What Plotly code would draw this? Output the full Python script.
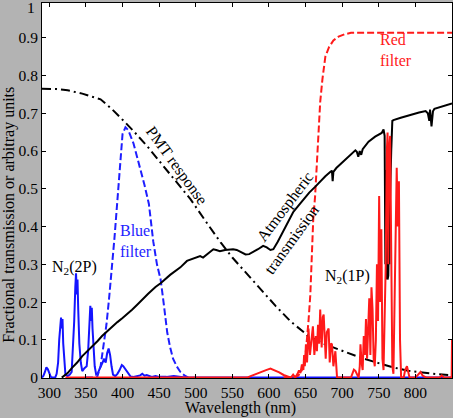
import plotly.graph_objects as go

# ---- data ----
# PMT response (dash-dot black)
pmt_wl = [290, 300, 310, 325, 345, 370, 385, 402, 414, 434, 450, 470, 493, 515, 534, 550,
          568, 588, 609, 630, 654, 677, 700, 722, 745, 768, 790, 810, 830, 850]
pmt_val = [0.765, 0.765, 0.764, 0.761, 0.752, 0.737, 0.712, 0.679, 0.655, 0.612, 0.574, 0.527,
           0.472, 0.41, 0.358, 0.318, 0.279, 0.235, 0.19, 0.148, 0.11, 0.088, 0.071, 0.055,
           0.041, 0.028, 0.018, 0.013, 0.009, 0.006]

# Atmospheric transmission (solid black)
atm_wl = [317, 320, 325, 331, 338, 345, 352, 359, 366, 372, 379, 386, 393, 400, 407, 413, 420,
          425, 435, 445, 452, 465, 479, 488, 496, 502, 506, 510, 515, 520, 524, 528, 533, 540,
          546, 551, 556, 562, 568, 573, 578, 585, 592, 597, 602, 606, 612, 620, 627, 633, 640,
          647, 655, 663, 670, 677, 684, 686, 687, 688, 692, 700, 710, 718, 720, 722, 724, 726,
          728, 730, 736, 745, 754, 756.5, 758, 759, 759.5, 760, 760.5, 761, 761.5, 762, 762.5,
          763, 764, 764.5, 765, 766, 767, 768.5, 770, 780, 795, 805, 814, 817, 819, 820, 822,
          824, 826, 835, 850]
atm_val = [0.0, 0.004, 0.012, 0.026, 0.04, 0.057, 0.07, 0.083, 0.097, 0.11, 0.123, 0.136, 0.147,
           0.158, 0.169, 0.18, 0.193, 0.203, 0.222, 0.24, 0.25, 0.272, 0.292, 0.309, 0.315, 0.32,
           0.322, 0.318, 0.325, 0.333, 0.34, 0.338, 0.335, 0.338, 0.34, 0.34, 0.338, 0.332,
           0.326, 0.327, 0.332, 0.34, 0.349, 0.345, 0.338, 0.34, 0.36, 0.39, 0.415, 0.438,
           0.455, 0.472, 0.49, 0.505, 0.52, 0.533, 0.545, 0.548, 0.52, 0.545, 0.555, 0.57,
           0.588, 0.602, 0.598, 0.585, 0.6, 0.59, 0.605, 0.61, 0.625, 0.638, 0.648, 0.657,
           0.64, 0.3, 0.55, 0.26, 0.5, 0.28, 0.45, 0.26, 0.4, 0.27, 0.4, 0.3, 0.45, 0.5, 0.6,
           0.68, 0.682, 0.688, 0.697, 0.702, 0.706, 0.7, 0.68, 0.71, 0.665, 0.705, 0.712,
           0.718, 0.726]

# Blue filter (dashed blue)
blue_filt_wl = [350, 365, 370, 374.7, 378, 381.5, 385, 389, 393, 397, 400, 404, 408, 415, 422,
                430, 436, 442, 447, 452, 456, 461, 465, 469, 474, 479, 485, 490]
blue_filt_val = [0.0, 0.0, 0.03, 0.09, 0.14, 0.207, 0.28, 0.37, 0.47, 0.58, 0.645, 0.663, 0.655,
                 0.62, 0.57, 0.51, 0.46, 0.36, 0.3, 0.26, 0.2, 0.12, 0.08, 0.05, 0.03, 0.015,
                 0.005, 0.0]

# Red filter (dashed red)
red_filt_wl = [620, 635, 640, 645, 650, 652, 654, 656.5, 658, 660.5, 663, 665, 667, 670, 673,
               677, 682, 688, 695, 703, 712, 850]
red_filt_val = [0.0, 0.002, 0.005, 0.02, 0.06, 0.1, 0.15, 0.22, 0.3, 0.42, 0.48, 0.56, 0.65,
                0.73, 0.79, 0.85, 0.875, 0.893, 0.903, 0.909, 0.913, 0.913]

# N2(2P) emission spectrum (solid blue)
n2p2_wl = [290, 292, 294, 296, 298, 300, 302, 304, 308, 310, 312, 313.5, 315, 316, 317, 318,
           319, 320.5, 322, 325, 328, 330.5, 332, 334, 335.5, 336.5, 337.5, 338.5, 339.5, 341,
           343, 345, 348, 351, 353, 354.5, 356, 357, 358, 359, 360.5, 362, 364, 366, 368, 371,
           373, 375, 377, 379, 381, 383, 385, 387, 390, 393, 396, 399, 401, 403, 405, 408, 411,
           415, 420, 424, 427, 430, 433, 436, 440, 445, 450, 460, 470, 480, 490, 850]
n2p2_val = [0.0, 0.005, 0.015, 0.027, 0.022, 0.01, 0.002, 0.0, 0.0, 0.01, 0.04, 0.1, 0.15,
            0.159, 0.13, 0.155, 0.09, 0.03, 0.008, 0.004, 0.008, 0.015, 0.06, 0.15, 0.24, 0.276,
            0.22, 0.26, 0.18, 0.09, 0.04, 0.017, 0.025, 0.03, 0.07, 0.14, 0.19, 0.15, 0.185,
            0.13, 0.07, 0.03, 0.008, 0.01, 0.02, 0.035, 0.04, 0.05, 0.04, 0.065, 0.077, 0.06,
            0.03, 0.008, 0.004, 0.01, 0.02, 0.033, 0.03, 0.025, 0.02, 0.01, 0.003, 0.002, 0.004,
            0.006, 0.01, 0.005, 0.007, 0.004, 0.002, 0.004, 0.002, 0.002, 0.004, 0.002, 0.0,
            0.0]

# N2(1P) emission spectrum (solid red)
n1p_wl = [322, 570, 575, 582, 590, 596, 602, 608, 614, 620, 626, 630, 633, 636, 639, 641, 643,
          645, 647, 648, 649, 650.5, 652, 654, 656, 658, 660, 662, 664, 665.5, 667, 668.5, 670,
          672, 673.5, 674.7, 676, 677.5, 679, 681.5, 683, 684.5, 686, 688, 690.7, 692, 693, 712,
          714, 716, 718, 720, 722.5, 724, 725, 726.5, 728, 729.5, 731, 732.5, 734, 735.5, 737,
          738.5, 740, 741.5, 743, 744.5, 746, 747.5, 749, 750.5, 752, 753.5, 755, 756.5, 758,
          759.5, 761, 762, 763, 764, 765.5, 767, 768.5, 770, 771.5, 773, 774.5, 776, 777.5,
          779, 780.5, 784, 786, 788.5, 790, 792, 800, 804, 807, 810, 815, 833, 836, 839, 849.5,
          850]
n1p_val = [0.0, 0.0, 0.004, 0.01, 0.016, 0.02, 0.024, 0.02, 0.014, 0.007, 0.002, 0.0, 0.008,
           0.0, 0.01, 0.019, 0.012, 0.035, 0.02, 0.06, 0.03, 0.088, 0.04, 0.13, 0.06, 0.1,
           0.136, 0.06, 0.11, 0.07, 0.14, 0.09, 0.18, 0.08, 0.16, 0.167, 0.09, 0.05, 0.12, 0.13,
           0.04, 0.09, 0.088, 0.03, 0.07, 0.03, 0.0, 0.0, 0.01, 0.021, 0.018, 0.01, 0.0, 0.03,
           0.088, 0.04, 0.02, 0.11, 0.06, 0.155, 0.05, 0.13, 0.21, 0.06, 0.239, 0.18, 0.05, 0.03,
           0.1, 0.3, 0.15, 0.481, 0.2, 0.393, 0.05, 0.02, 0.15, 0.3, 0.6, 0.649, 0.3, 0.6, 0.64,
           0.2, 0.03, 0.01, 0.2, 0.45, 0.556, 0.4, 0.52, 0.1, 0.0, 0.0, 0.02, 0.03, 0.02, 0.0,
           0.0, 0.01, 0.015, 0.005, 0.0, 0.0, 0.006, 0.0, 0.0, 0.1]

x_ticks = [300, 350, 400, 450, 500, 550, 600, 650, 700, 750, 800]
y_ticks = [0, 0.1, 0.2, 0.3, 0.4, 0.5, 0.6, 0.7, 0.8, 0.9]
y_top_label = "1"   # sits just above the plotted range in the reference

SERIF = "Liberation Serif, Times New Roman, serif"

fig = go.Figure()

def add_line(x, y, color, dash="solid", width=2):
    fig.add_trace(go.Scatter(x=x, y=y, mode="lines", showlegend=False, hoverinfo="skip",
                             line=dict(color=color, width=width, dash=dash)))

# drawing order roughly follows the reference
add_line(n2p2_wl, n2p2_val, "#1414ff")
add_line(blue_filt_wl, blue_filt_val, "#1e1eff", dash="7px,3px")
add_line(red_filt_wl, red_filt_val, "#ff1a1a", dash="7px,3px")
add_line(pmt_wl, pmt_val, "black", dash="9px,4px,2px,4px")
add_line(atm_wl, atm_val, "black")
add_line(n1p_wl, n1p_val, "#ff1a1a")

ann_font = dict(family=SERIF, size=16)
notes = [
    dict(x=334, y=0.292, text="N<sub>2</sub>(2P)", font=dict(ann_font, color="black")),
    dict(x=707.8, y=0.268, text="N<sub>2</sub>(1P)", font=dict(ann_font, color="black")),
    dict(x=394, y=0.362, text="Blue<br>filter", xanchor="left", align="left",
         font=dict(ann_font, color="#1e1eff")),
    dict(x=749, y=0.868, text="Red<br>filter", xanchor="left", align="left",
         font=dict(ann_font, color="#ff1a1a")),
    dict(x=474, y=0.56, text="PMT response", textangle=54, font=dict(ann_font, color="black")),
    dict(x=622, y=0.452, text="Atmospheric", textangle=-53, font=dict(ann_font, color="black")),
    dict(x=630.7, y=0.366, text="transmission", textangle=-54, font=dict(ann_font, color="black")),
]
for n in notes:
    n.setdefault("xanchor", "center")
    fig.add_annotation(showarrow=False, yanchor="middle", **n)

# top "1" tick label, axis titles (the y title sits below the plot centre in the reference)
fig.add_annotation(text=y_top_label, xref="paper", yref="paper", x=0, y=0.989, xanchor="right",
                   yanchor="middle", xshift=-5, showarrow=False,
                   font=dict(family=SERIF, size=15.5, color="black"))
fig.add_annotation(text="Fractional transmission or arbitray units", textangle=-90,
                   xref="paper", yref="paper", x=-0.081, y=0.435, xanchor="center",
                   yanchor="middle", showarrow=False, font=dict(family=SERIF, size=16, color="black"))
fig.add_annotation(text="Wavelength (nm)", xref="paper", yref="paper", x=0.485, y=-0.079,
                   xanchor="center", yanchor="middle", showarrow=False,
                   font=dict(family=SERIF, size=16, color="black"))

axis_common = dict(showline=True, linecolor="black", linewidth=1, mirror="ticks",
                   ticks="inside", ticklen=4, tickcolor="black", showgrid=False,
                   zeroline=False, tickfont=dict(family=SERIF, size=15.5, color="black"))
fig.update_xaxes(range=[290, 850], tickvals=x_ticks, **axis_common)
fig.update_yaxes(range=[-0.001, 0.992], tickvals=y_ticks, **axis_common)

fig.update_layout(
    width=453, height=418,
    margin=dict(l=42, r=1, t=3, b=40),
    paper_bgcolor="#b3b3b3",
    plot_bgcolor="white",
    font=dict(family=SERIF, size=16, color="black"),
)

# page body has a default 8px margin; drop it so the figure fills the window
fig.write_html("out.html", config={"displayModeBar": False},
               post_script="document.body.style.margin='0';")
